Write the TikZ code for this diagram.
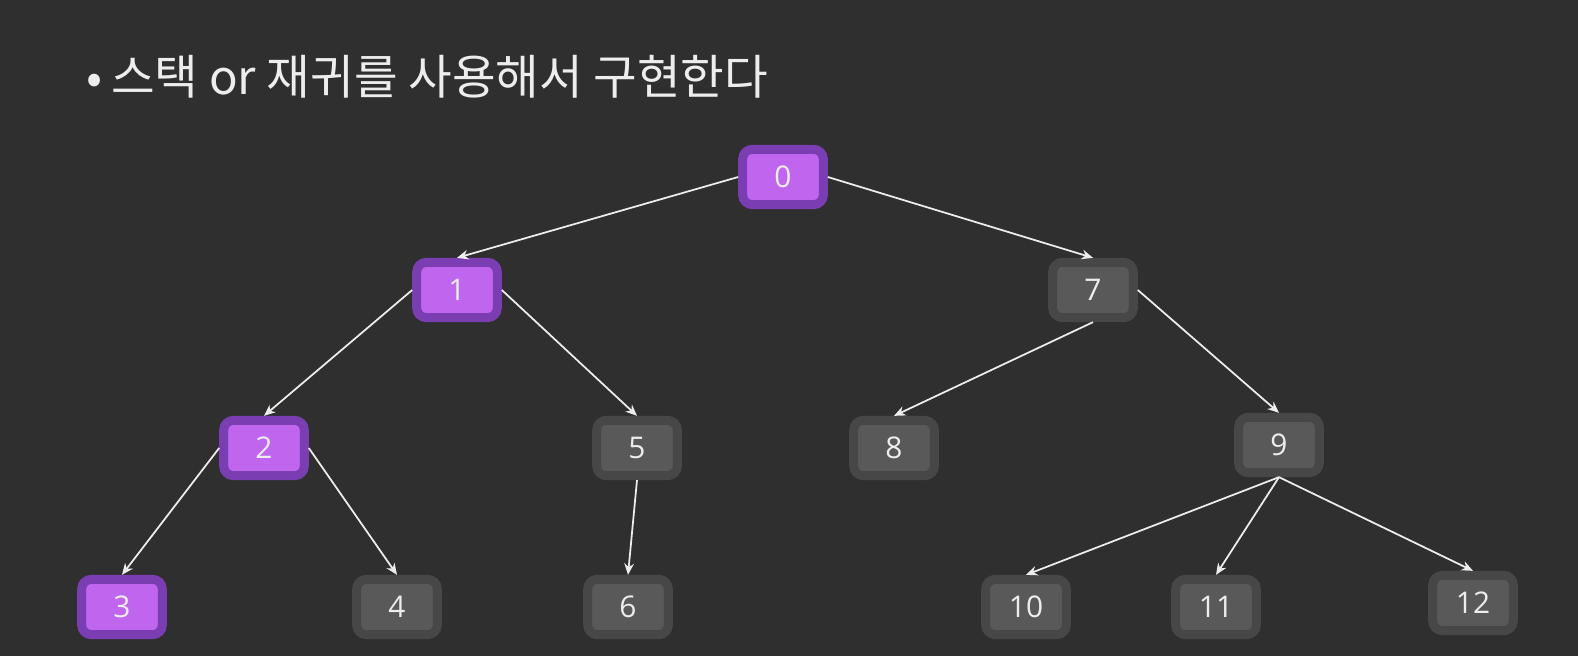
\documentclass[tikz,border=0pt]{standalone}
\usepackage{fontspec}
\setmainfont{Open Sans}
\newfontfamily\kor{Noto Sans CJK KR}
\usepackage{xcolor}
\usetikzlibrary{arrows.meta,positioning}

\definecolor{bgdark}{HTML}{2F2F2F}
\definecolor{visitrim}{HTML}{7B3DB2}
\definecolor{visitfill}{HTML}{C065EE}
\definecolor{idlerim}{HTML}{474747}
\definecolor{idlefill}{HTML}{595959}
\definecolor{txtlight}{HTML}{EDEDED}

\begin{document}
\begin{tikzpicture}[x=0.02cm, y=-0.02cm, >={Stealth[length=6.5pt,width=5.5pt]},
    box/.style={rectangle, rounded corners=5.5pt, line width=5.1pt,
        minimum width=45.9pt, minimum height=31.5pt, inner sep=0pt,
        text=txtlight, font=\fontsize{17}{17}\selectfont},
    visited/.style={box, draw=visitrim, fill=visitfill},
    idle/.style={box, draw=idlerim, fill=idlefill},
    link/.style={->, draw=txtlight, line width=1pt}]
    % Background
    \fill[bgdark] (0,0) rectangle (1578,656);
    \useasboundingbox (0,0) rectangle (1578,656);

    % Title
    \node[anchor=west, text=txtlight, font=\kor\fontsize{27}{30}\selectfont] (title) at (80,77) {•\hspace{5pt}스택 or 재귀를 사용해서 구현한다};

    % Level 0
    \node[visited] (n0) at (783,177) {0};

    % Level 1
    \node[visited] (n1) at (457,290) {1};
    \node[idle] (n7) at (1093,290) {7};

    % Level 2
    \node[visited] (n2) at (264,448) {2};
    \node[idle] (n5) at (637,448) {5};
    \node[idle] (n8) at (894,448) {8};
    \node[idle] (n9) at (1279,445) {9};

    % Level 3
    \node[visited] (n3) at (122,607) {3};
    \node[idle] (n4) at (397,607) {4};
    \node[idle] (n6) at (628,607) {6};
    \node[idle] (n10) at (1026,607) {10};
    \node[idle] (n11) at (1216,607) {11};
    \node[idle] (n12) at (1473,603) {12};

    % Edges
    \draw[link] (n0.west) -- (n1.north);
    \draw[link] (n0.east) -- (n7.north);
    \draw[link] (n1.west) -- (n2.north);
    \draw[link] (n1.east) -- (n5.north);
    \draw[link] (n7.south) -- (n8.north);
    \draw[link] (n7.east) -- (n9.north);
    \draw[link] (n2.west) -- (n3.north);
    \draw[link] (n2.east) -- (n4.north);
    \draw[link] (n5.south) -- (n6.north);
    \draw[link] (n9.south) -- (n10.north);
    \draw[link] (n9.south) -- (n11.north);
    \draw[link] (n9.south) -- (n12.north);
\end{tikzpicture}
\end{document}
